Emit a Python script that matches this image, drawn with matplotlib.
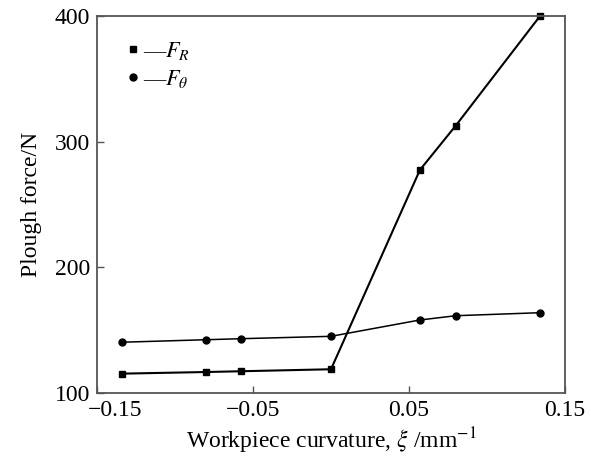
import matplotlib.pyplot as plt
import matplotlib.transforms as mtransforms
from matplotlib.lines import Line2D

plt.rcParams['font.family'] = ['Liberation Serif', 'DejaVu Serif']
plt.rcParams['mathtext.fontset'] = 'stix'

# curvature values (mm^-1) and plough forces (N)
curvature = [-0.134, -0.080, -0.058, 0.0, 0.057, 0.080, 0.134]
force_r = [115.4, 116.7, 117.3, 118.9, 277.5, 312.8, 400.0]
force_theta = [140.4, 142.4, 143.2, 145.1, 158.1, 161.5, 163.9]

fig = plt.figure(figsize=(5.91, 4.57), dpi=100)
ax = fig.add_axes([97 / 591, 1 - 393 / 457, 468 / 591, 377 / 457])

ax.plot(curvature, force_r, color='black', lw=1.5, marker='s', ms=5, clip_on=False)
ax.plot(curvature, force_theta, color='black', lw=1.1, marker='o', ms=5, clip_on=False)

ax.set_xlim(-0.15, 0.15)
ax.set_ylim(100, 400)
ax.set_xticks([-0.15, -0.05, 0.05, 0.15])
ax.set_xticklabels(['\u22120.15', '\u22120.05', '0.05', '0.15'])
ax.set_yticks([100, 200, 300, 400])
ax.tick_params(direction='in', length=5, width=1, color='#555555', labelsize=17, pad=5)
for s in ax.spines.values():
    s.set_color('#555555')
    s.set_linewidth(1.3)

# first x label sits a bit to the right, clear of the "100"
first = ax.get_xticklabels()[0]
first.set_transform(first.get_transform() +
                    mtransforms.ScaledTranslation(18 / 100, 0, fig.dpi_scale_trans))

ax.set_xlabel(r'Workpiece curvature, $\xi$ /mm$^{-1}$', fontsize=17, labelpad=3)
ax.set_ylabel('Plough force/N', fontsize=17, labelpad=9)

handles = [Line2D([], [], color='black', marker='s', ms=5, ls='none'),
           Line2D([], [], color='black', marker='o', ms=5, ls='none')]
ax.legend(handles, ['\u2014$F_R$', '\u2014$F_\\theta$'], loc='upper left',
          bbox_to_anchor=(0.047, 0.96), frameon=False, fontsize=16,
          handlelength=0.5, handletextpad=0.2, labelspacing=0.25, borderaxespad=0)

fig.savefig('out.png', dpi=100)
